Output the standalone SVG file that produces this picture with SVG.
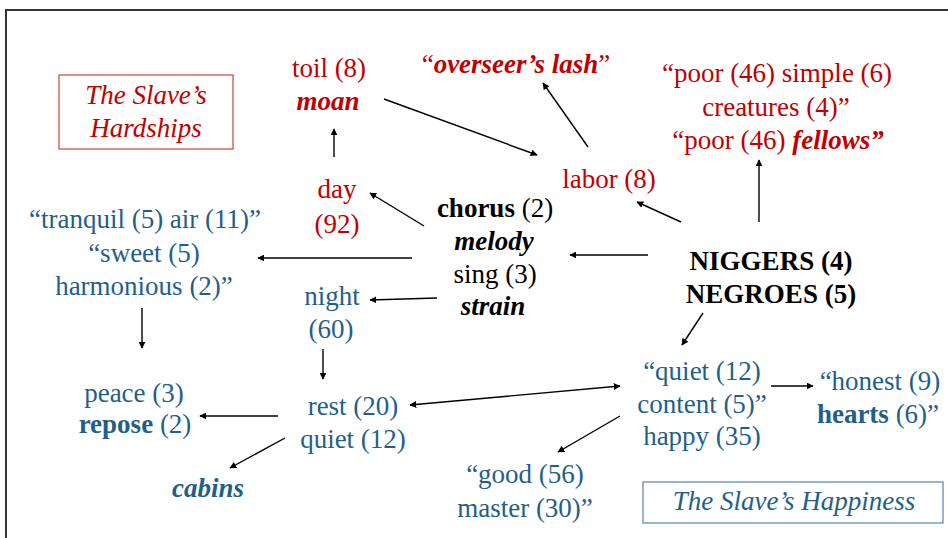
<svg xmlns="http://www.w3.org/2000/svg" width="948" height="538" viewBox="0 0 948 538">
<style>
text{font-size:27px;text-anchor:middle}
.r{fill:#c00000}
.b{fill:#1f5f8a}
.k{fill:#000}
.bo{font-weight:bold}
.it{font-style:italic}
.bi{font-weight:bold;font-style:italic}
.c line{stroke:#000;stroke-width:1.4;marker-end:url(#ah)}
</style>
<defs>
<marker id="ah" viewBox="0 0 10 10" refX="9" refY="5" markerWidth="5" markerHeight="5" orient="auto-start-reverse" markerUnits="strokeWidth">
<path d="M0,0 L10,5 L0,10 z" fill="#000"/>
</marker>
</defs>
<rect width="948" height="538" fill="#fff"/>
<path d="M6,538 V10 H948" fill="none" stroke="#333" stroke-width="2"/>
<g font-family="Liberation Serif, DejaVu Serif, serif">
<g id="hardships">
<rect x="59" y="75" width="174" height="74" fill="none" stroke="#d04040" stroke-width="1.2"/>
<text x="146" y="104" class="r it">The Slave’s</text>
<text x="146" y="137" class="r it">Hardships</text>
</g>
<g id="happiness">
<rect x="643" y="482" width="300" height="41" fill="none" stroke="#4f86aa" stroke-width="1.2"/>
<text x="794" y="510" class="b it">The Slave’s Happiness</text>
</g>
<g id="toil">
<text x="329" y="77" class="r">toil (8)</text>
<text x="328" y="110" class="r bi">moan</text>
</g>
<g id="overseer">
<text x="516" y="73" class="r">“<tspan class="bi">overseer’s lash</tspan>”</text>
</g>
<g id="poor">
<text x="777" y="82" class="r">“poor (46) simple (6)</text>
<text x="776" y="116" class="r">creatures (4)”</text>
<text x="778" y="149" class="r">“poor (46) <tspan class="bi">fellows”</tspan></text>
</g>
<g id="day">
<text x="337" y="198" class="r">day</text>
<text x="337" y="233" class="r">(92)</text>
</g>
<g id="labor">
<text x="609" y="188" class="r">labor (8)</text>
</g>
<g id="chorus">
<text x="495" y="217" class="k"><tspan class="bo">chorus</tspan> (2)</text>
<text x="494" y="250" class="k bi">melody</text>
<text x="495" y="283" class="k">sing (3)</text>
<text x="493" y="315" class="k bi">strain</text>
</g>
<g id="niggers">
<text x="771" y="270" class="k bo">NIGGERS (4)</text>
<text x="771" y="303" class="k bo">NEGROES (5)</text>
</g>
<g id="tranquil">
<text x="145" y="228" class="b">“tranquil (5) air (11)”</text>
<text x="144" y="262" class="b">“sweet (5)</text>
<text x="144" y="295" class="b">harmonious (2)”</text>
</g>
<g id="night">
<text x="332" y="305" class="b">night</text>
<text x="331" y="338" class="b">(60)</text>
</g>
<g id="peace">
<text x="134" y="402" class="b">peace (3)</text>
<text x="135" y="433" class="b"><tspan class="bo">repose</tspan> (2)</text>
</g>
<g id="cabins">
<text x="208" y="497" class="b bi">cabins</text>
</g>
<g id="rest">
<text x="353" y="415" class="b">rest (20)</text>
<text x="353" y="448" class="b">quiet (12)</text>
</g>
<g id="good">
<text x="525" y="483" class="b">“good (56)</text>
<text x="525" y="517" class="b">master (30)”</text>
</g>
<g id="quiet">
<text x="702" y="380" class="b">“quiet (12)</text>
<text x="702" y="413" class="b">content (5)”</text>
<text x="702" y="445" class="b">happy (35)</text>
</g>
<g id="honest">
<text x="880" y="390" class="b">“honest (9)</text>
<text x="878" y="423" class="b"><tspan class="bo">hearts</tspan> (6)”</text>
</g>
</g>
<g id="connectors" class="c">
<line x1="334" y1="157" x2="334" y2="129"/>
<line x1="384" y1="99" x2="537" y2="155"/>
<line x1="588" y1="147" x2="543" y2="83"/>
<line x1="424" y1="226" x2="370" y2="193"/>
<line x1="681" y1="222" x2="637" y2="202"/>
<line x1="759" y1="222" x2="759" y2="160"/>
<line x1="648" y1="255" x2="570" y2="255"/>
<line x1="412" y1="258" x2="258" y2="258"/>
<line x1="437" y1="298" x2="370" y2="300"/>
<line x1="142" y1="308" x2="142" y2="348"/>
<line x1="323" y1="349" x2="323" y2="379"/>
<line x1="278" y1="416" x2="200" y2="416"/>
<line x1="285" y1="438" x2="230" y2="468"/>
<line x1="410" y1="405" x2="620" y2="386" style="marker-start:url(#ah)"/>
<line x1="620" y1="416" x2="558" y2="452"/>
<line x1="703" y1="313" x2="682" y2="345"/>
<line x1="771" y1="386" x2="813" y2="386"/>
</g>
</svg>
